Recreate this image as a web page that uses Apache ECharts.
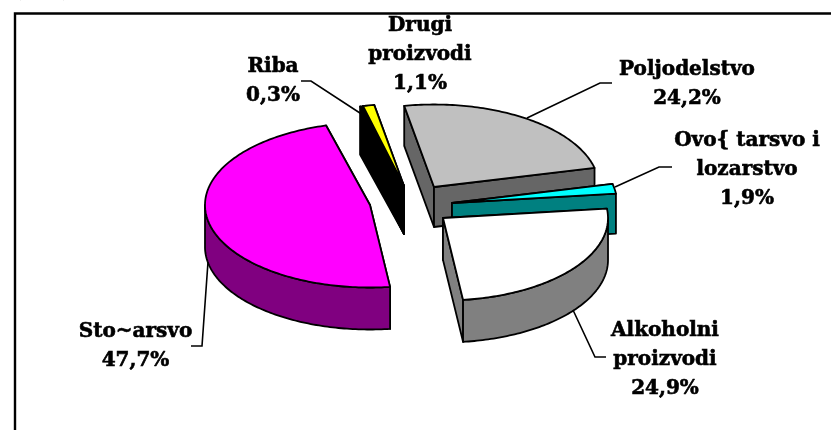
<!DOCTYPE html>
<html><head><meta charset="utf-8">
<style>html,body{margin:0;padding:0;background:#fff}#c{width:831px;height:430px}</style>
<script src="https://cdn.jsdelivr.net/npm/echarts@6/dist/echarts.min.js"></script>
</head><body><div id="c"></div>
<script>
// Data, clockwise from the first slice
const categories = ['Poljodelstvo', 'Ovo{ tarsvo i\nlozarstvo', 'Alkoholni\nproizvodi', 'Sto~arsvo', 'Riba', 'Drugi\nproizvodi'];
const shareValues = [24.2, 1.9, 24.9, 47.7, 0.3, 1.1];
const unitNote = '(u %)';

// Styles
const topColors = ['#C0C0C0', '#00FFFF', '#FFFFFF', '#FF00FF', '#000000', '#FFFF00'];
const sideColors = ['#666666', '#008080', '#808080', '#800080', '#000000', '#000000'];

// Layout (pixels): apex of each exploded slice, wall depth, paint order
const apexX = [434, 452, 443, 370, 404, 404];
const apexY = [187, 203, 218, 205, 186, 186];
const wallDepth = [40, 40, 42, 42, 48, 48];
const paintOrder = [3, 4, 5, 2, 0, 1];
const radiusX = 165, radiusY = 82.5, startDeg = -10.4;
const labelX = [687, 747, 665, 135.5, 273, 420];
const labelY = [84, 170, 360, 346, 81, 55];
const leaders = [
  [[527, 118], [600, 83], [612, 83]],
  [[615, 187], [659, 167], [672, 167]],
  [[573, 310], [595, 357], [606, 357]],
  [[208, 262], [202, 346], [191, 346]],
  [[363, 115], [311, 81], [301, 81]],
  null
];

const total = shareValues.reduce((a, b) => a + b, 0);
const LINE = { stroke: '#000', lineWidth: 1.8, lineJoin: 'round' };
const FONT = 'bold 20px "DejaVu Serif"';

function arcPoints(cx, cy, a0, a1) {
  const n = Math.max(2, Math.ceil(a1 - a0));
  const pts = [];
  for (let s = 0; s <= n; s++) {
    const t = (a0 + (a1 - a0) * s / n) * Math.PI / 180;
    pts.push([cx + radiusX * Math.sin(t), cy - radiusY * Math.cos(t)]);
  }
  return pts;
}

function renderSlice(params, api) {
  const i = params.dataIndex;
  let before = 0;
  for (let k = 0; k < i; k++) before += shareValues[k];
  const a0 = startDeg + before / total * 360;
  const a1 = a0 + api.value(0) / total * 360;
  const cx = apexX[i], cy = apexY[i], d = wallDepth[i];
  const arc = arcPoints(cx, cy, a0, a1);
  const low = p => [p[0], p[1] + d];
  const first = arc[0], last = arc[arc.length - 1], apex = [cx, cy];
  const z = paintOrder[i] * 10;
  const side = { fill: sideColors[i], ...LINE };
  const children = [
    { type: 'polygon', z2: z, shape: { points: [apex, first, low(first), low(apex)] }, style: side },
    { type: 'polygon', z2: z + 1, shape: { points: [apex, last, low(last), low(apex)] }, style: side }
  ];
  // the outer wall only shows on the front half of the ellipse
  const w0 = Math.max(a0, 90), w1 = Math.min(a1, 270);
  if (w1 > w0) {
    const wall = arcPoints(cx, cy, w0, w1);
    children.push({ type: 'polygon', z2: z + 2,
      shape: { points: wall.concat(wall.slice().reverse().map(low)) }, style: side });
  }
  children.push(
    { type: 'polygon', z2: z + 3, shape: { points: [apex].concat(arc) }, style: { fill: topColors[i], ...LINE } },
    { type: 'text', z2: 100, style: {
        text: categories[i] + '\n' + api.value(0).toFixed(1).replace('.', ',') + '%',
        x: labelX[i], y: labelY[i], align: 'center', verticalAlign: 'middle',
        font: FONT, lineHeight: 29, fill: '#000', stroke: '#000', lineWidth: 0.6 } }
  );
  if (leaders[i]) {
    children.push({ type: 'polyline', z2: 99, shape: { points: leaders[i] },
      style: { fill: null, stroke: '#000', lineWidth: 1.6 } });
  }
  return { type: 'group', children };
}

const chart = echarts.init(document.getElementById('c'), null, { renderer: 'canvas' });
chart.setOption({
  animation: false,
  backgroundColor: '#fff',
  graphic: [
    { type: 'polyline', shape: { points: [[15, 430], [15, 13.5], [831, 13.5]] },
      style: { fill: null, stroke: '#000', lineWidth: 2.4 } },
    { type: 'text', style: { text: unitNote, x: 12, y: -18, font: 'bold 20px "DejaVu Serif"', fill: '#000' } }
  ],
  series: [{
    type: 'custom',
    coordinateSystem: 'none',
    renderItem: renderSlice,
    data: shareValues.map((v, i) => ({ name: categories[i], value: [v] }))
  }]
});
</script></body></html>
